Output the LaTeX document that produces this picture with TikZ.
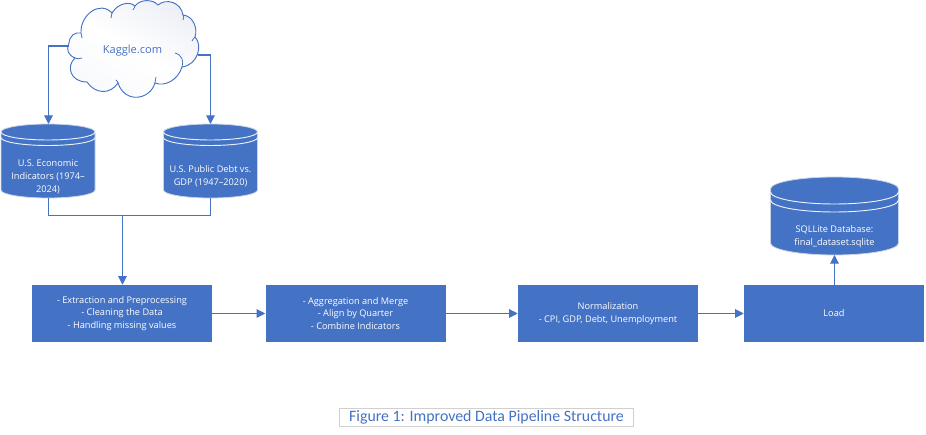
\documentclass[tikz,border=0pt]{standalone}
\usepackage{fontspec}
\setmainfont{Open Sans}
\newfontfamily\capfont{Carlito}
\usetikzlibrary{arrows.meta,positioning,shadings}
\definecolor{boxblue}{HTML}{4472C4}
\definecolor{capblue}{HTML}{4472C4}
\definecolor{capgrey}{HTML}{D0D0D0}
\definecolor{halo}{HTML}{C9D3E6}
\definecolor{cloudend}{HTML}{EEF0F7}
\definecolor{cloudlow}{HTML}{F8F9FC}
\tikzset{
  stagebox/.style={draw=none,fill=boxblue,text=white,minimum width=135pt,minimum height=42.75pt,inner sep=0pt,align=center,font=\fontsize{6.9pt}{9.6pt}\selectfont},
  dbanchor/.style={inner sep=0pt,outer sep=0pt,minimum height=55.5pt},
  dblabel/.style={text=white,align=center,inner sep=0pt,font=\fontsize{6.9pt}{9.6pt}\selectfont},
  flow/.style={draw=boxblue,line width=0.8pt,-{Triangle[length=6.5pt,width=6.5pt]}},
  plainflow/.style={draw=boxblue,line width=0.8pt},
  dbbody/.style={fill=boxblue,draw=halo,line width=0.6pt},
  dbline/.style={draw=white!90!boxblue,line width=0.7pt},
  cloudhook/.style={draw=boxblue,line width=0.6pt}
}
\newcommand{\dbshape}[6]{% xleft xright top bottom ry list of side offsets
  \path[dbbody] (#1,#3+#5) arc[start angle=180,end angle=360,x radius=(#2-#1)/2,y radius=#5]
     -- (#2,#4-#5) arc[start angle=0,end angle=180,x radius=(#2-#1)/2,y radius=#5] -- cycle;
  \foreach \off in {#6}{
    \path[dbline] (#1,#3+#5+\off) arc[start angle=180,end angle=0,x radius=(#2-#1)/2,y radius=#5];
  }
}
\begin{document}
\begin{tikzpicture}[x=0.75pt,y=-0.75pt]
\useasboundingbox (0,0) rectangle (926,435);
% cloud
\path[draw=boxblue,line width=0.7pt,top color=cloudend,bottom color=cloudlow,middle color=white,shading angle=-30]
 (69,43) .. controls (70,35) and (75,32) .. (81,33)
 .. controls (80,15) and (100,0) .. (112,13)
 .. controls (118,3) and (130,1) .. (135,6)
 .. controls (140,-1) and (153,-1) .. (158,5)
 .. controls (166,-2) and (181,2) .. (183,15)
 .. controls (193,16) and (198,28) .. (195,37)
 .. controls (203,45) and (198,65) .. (182,67)
 .. controls (178,80) and (165,87) .. (155,83)
 .. controls (150,100) and (125,104) .. (118,83)
 .. controls (110,95) and (95,94) .. (87,82)
 .. controls (70,82) and (66,66) .. (75,58)
 .. controls (68,55) and (66,50) .. (69,43) -- cycle;
\draw[cloudhook] (81,33) .. controls (81,35) and (81,36) .. (82,38);
\draw[cloudhook] (112,13) .. controls (111,15) and (111,16) .. (111,18);
\draw[cloudhook] (135,6) .. controls (134,8) and (134,9) .. (133,10);
\draw[cloudhook] (183,15) .. controls (184,17) and (184,18) .. (183,20);
\draw[cloudhook] (195,37) .. controls (194,38) and (193,39) .. (192,41);
\draw[cloudhook] (182,67) .. controls (184,61) and (182,55) .. (175,53);
\draw[cloudhook] (155,83) .. controls (155,81) and (156,79) .. (156,77);
\draw[cloudhook] (118,83) .. controls (118,82) and (117,81) .. (116,80);
\draw[cloudhook] (75,58) .. controls (77,59) and (79,59) .. (82,58);
\node[text=boxblue,inner sep=0pt,font=\fontsize{8.3pt}{9pt}\selectfont] (cloud) at (132.5,50.5) {Kaggle.com};
\coordinate (cloudL) at (69,46);
\coordinate (cloudR) at (198,55);
% databases
\dbshape{1}{95}{124}{198}{8}{0,5.5}
\dbshape{163.5}{257.5}{124}{198}{8}{0,5.5}
\dbshape{770.5}{898.5}{177}{255}{12}{3,11}
\node[dbanchor,minimum width=70.5pt] (db1) at (48.5,161) {};
\node[dbanchor,minimum width=70.5pt] (db2) at (210.5,161) {};
\node[dbanchor,minimum width=96pt,minimum height=57.75pt] (db3) at (834.5,216.5) {};
\node[dblabel] (db1text) at (48,177) {U.S. Economic\\Indicators (1974–\\2024)};
\node[dblabel] (db2text) at (210.5,176.5) {U.S. Public Debt vs.\\GDP (1947–2020)};
\node[dblabel] (db3text) at (834.5,237) {SQLLite Database:\\final\_dataset.sqlite};
% stages
\node[stagebox] (s1) at (122,313.5) {- Extraction and Preprocessing\\- Cleaning the Data\\- Handling missing values};
\node[stagebox] (s2) at (355.5,313.5) {- Aggregation and Merge\\- Align by Quarter\\- Combine Indicators};
\node[stagebox] (s3) at (608,313.5) {Normalization\\- CPI, GDP, Debt, Unemployment};
\node[stagebox] (s4) at (834,313.5) {Load};
% caption
\node[draw=capgrey,line width=0.8pt,fill=white,text=capblue,minimum width=221pt,minimum height=14pt,inner sep=0pt,font=\capfont\fontsize{11.9pt}{12pt}\selectfont] (cap) at (486.5,417.5) {Figure 1: Improved Data Pipeline Structure};
% connectors
\draw[flow] (cloudL) -| (db1.north);
\draw[flow] (cloudR) -| (db2.north);
\coordinate (merge) at (122.5,215.5);
\draw[plainflow] (db1.south) |- (merge) -| (db2.south);
\draw[flow] (merge) -- (merge |- s1.north);
\draw[flow] (s1.east) -- (s2.west);
\draw[flow] (s2.east) -- (s3.west);
\draw[flow] (s3.east) -- (s4.west);
\draw[flow] (s4.north -| db3.south) -- (db3.south);
\end{tikzpicture}
\end{document}
